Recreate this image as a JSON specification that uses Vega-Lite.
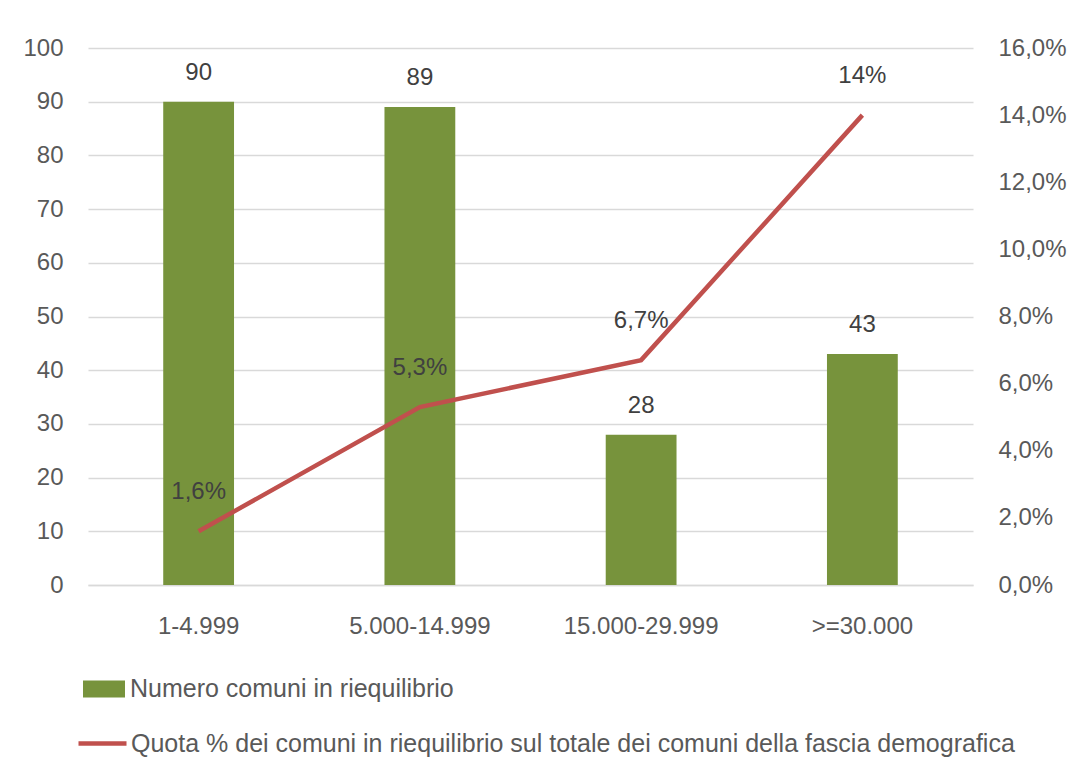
{
  "$schema": "https://vega.github.io/schema/vega-lite/v6.json",
  "autosize": "none",
  "width": 885,
  "height": 537,
  "padding": {"left": 88, "top": 48, "right": 94, "bottom": 193},
  "background": "white",
  "data": {"values": [
    {"fascia": "1-4.999", "numero": 90, "quota": 0.016, "label": "1,6%"},
    {"fascia": "5.000-14.999", "numero": 89, "quota": 0.053, "label": "5,3%"},
    {"fascia": "15.000-29.999", "numero": 28, "quota": 0.067, "label": "6,7%"},
    {"fascia": ">=30.000", "numero": 43, "quota": 0.14, "label": "14%"}
  ]},
  "encoding": {
    "x": {"field": "fascia", "type": "nominal", "sort": null,
      "scale": {"paddingInner": 0.68, "paddingOuter": 0.34},
      "axis": {"title": null, "labelAngle": 0, "ticks": false, "domain": true, "domainColor": "#D9D9D9", "domainWidth": 1.5,
        "labelPadding": 29, "labelFont": "Liberation Sans", "labelFontSize": 24, "labelColor": "#595959"}}
  },
  "layer": [
    {
      "layer": [
        {
          "mark": {"type": "bar", "color": "#77933C"},
          "encoding": {
            "y": {"field": "numero", "type": "quantitative",
              "scale": {"domain": [0, 100], "nice": false},
              "axis": {"title": null, "values": [0,10,20,30,40,50,60,70,80,90,100], "ticks": false, "domain": false,
                "grid": true, "gridColor": "#D9D9D9", "gridWidth": 1.5,
                "labelPadding": 25, "labelFont": "Liberation Sans", "labelFontSize": 24, "labelColor": "#595959"}},
            "fill": {"datum": "Numero comuni in riequilibrio", "type": "nominal",
              "scale": {"range": ["#77933C"]},
              "legend": {"title": null, "orient": "none", "legendX": -5, "legendY": 620,
                "symbolType": "M-1,-0.4L1,-0.4L1,0.4L-1,0.4Z", "symbolSize": 1764, "symbolStrokeWidth": 0,
                "labelFont": "Liberation Sans", "labelFontSize": 25, "labelColor": "#595959", "labelOffset": 5, "labelLimit": 1000}}
          }
        },
        {
          "mark": {"type": "text", "dy": -29, "font": "Liberation Sans", "fontSize": 24, "color": "#404040"},
          "encoding": {
            "y": {"field": "numero", "type": "quantitative"},
            "text": {"field": "numero", "type": "quantitative"}
          }
        }
      ]
    },
    {
      "layer": [
        {
          "mark": {"type": "line", "strokeWidth": 4.5, "color": "#C0504D"},
          "encoding": {
            "y": {"field": "quota", "type": "quantitative",
              "scale": {"domain": [0, 0.16], "nice": false},
              "axis": {"title": null, "orient": "right", "values": [0,0.02,0.04,0.06,0.08,0.1,0.12,0.14,0.16],
                "labelExpr": "replace(format(datum.value, '.1%'), '.', ',')",
                "ticks": false, "domain": false, "grid": false,
                "labelPadding": 25, "labelFont": "Liberation Sans", "labelFontSize": 24, "labelColor": "#595959"}},
            "stroke": {"datum": "Quota % dei comuni in riequilibrio sul totale dei comuni della fascia demografica", "type": "nominal",
              "scale": {"range": ["#C0504D"]},
              "legend": {"title": null, "orient": "none", "legendX": -12, "legendY": 669,
                "symbolType": "stroke", "symbolSize": 2304, "symbolStrokeWidth": 4.5,
                "labelFont": "Liberation Sans", "labelFontSize": 25, "labelColor": "#595959", "labelOffset": 2, "labelLimit": 1000}}
          }
        },
        {
          "mark": {"type": "text", "dy": -39, "font": "Liberation Sans", "fontSize": 24, "color": "#404040"},
          "encoding": {
            "y": {"field": "quota", "type": "quantitative", "scale": {"domain": [0, 0.16], "nice": false}},
            "text": {"field": "label", "type": "nominal"}
          }
        }
      ],
      "resolve": {"scale": {"y": "shared"}}
    }
  ],
  "resolve": {"scale": {"y": "independent", "fill": "independent", "stroke": "independent"}},
  "config": {"view": {"stroke": null}}
}
